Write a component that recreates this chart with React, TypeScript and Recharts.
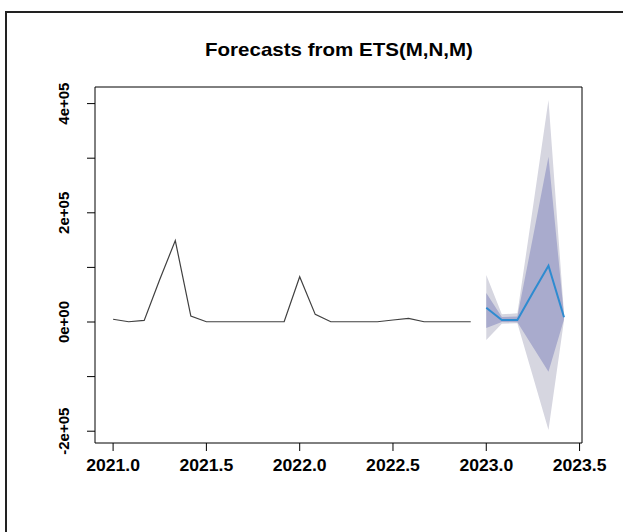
import {
  ComposedChart,
  Line,
  Area,
  XAxis,
  YAxis,
  ReferenceArea,
} from 'recharts';

// monthly series, Jan 2021 .. Dec 2022
const startYear = 2021;
const freq = 12;
const observed = [
  5000, 500, 3000, 78000, 149000, 11000, 500, 500, 500, 500, 500, 500,
  83000, 14000, 500, 500, 500, 500, 3700, 6800, 500, 500, 500, 500,
];

// forecasts Jan 2023 .. Jun 2023
const fcMean = [26000, 3700, 3700, 54000, 103000, 8600];
const lo80 = [-11000, 0, -500, -46000, -91000, 5000];
const hi80 = [53000, 9000, 10000, 155000, 302700, 12000];
const lo95 = [-33000, -3000, -2500, -100000, -197800, 3000];
const hi95 = [86000, 14000, 16000, 210000, 406600, 15000];

const xTicks = [2021, 2021.5, 2022, 2022.5, 2023, 2023.5];
const yTicks = [-200000, -100000, 0, 100000, 200000, 300000, 400000];
const yLabelled = [-200000, 0, 200000, 400000];

const xDomain = [2020.903, 2023.513];
const yDomain = [-221600, 430400];

const data = [
  ...observed.map((v, i) => ({ t: startYear + i / freq, actual: v })),
  ...fcMean.map((v, i) => ({
    t: startYear + (observed.length + i) / freq,
    mean: v,
    band80: [lo80[i], hi80[i]],
    band95: [lo95[i], hi95[i]],
  })),
];

const fmtY = (v: number) => {
  if (v === 0) return '0e+00';
  return `${v / 100000}e+05`;
};

const XTick = ({ x, y, payload }: any) => (
  <g transform={`translate(${x},${y + 13}) scale(1.1,1)`}>
    <text
      x={0}
      y={0}
      textAnchor="middle"
      dominantBaseline="central"
      fontFamily="'Liberation Sans', Arial, sans-serif"
      fontWeight="bold"
      fontSize={16}
      fill="#000"
    >
      {payload.value.toFixed(1)}
    </text>
  </g>
);

const YTick = ({ x, y, payload }: any) => {
  if (!yLabelled.includes(payload.value)) return null;
  const cx = x - 21;
  return (
    <text
      x={cx}
      y={y}
      transform={`rotate(-90, ${cx}, ${y})`}
      textAnchor="middle"
      dominantBaseline="central"
      fontFamily="'Liberation Sans', Arial, sans-serif"
      fontWeight="bold"
      fontSize={15}
      fill="#000"
    >
      {fmtY(payload.value)}
    </text>
  );
};

export default function App() {
  return (
    <div
      style={{
        position: 'absolute',
        left: 0,
        top: 0,
        width: 623,
        height: 532,
        overflow: 'hidden',
        background: '#fff',
      }}
    >
      {/* outer frame of the screenshot */}
      <div
        style={{
          position: 'absolute',
          left: 5,
          top: 11,
          width: 700,
          height: 600,
          borderLeft: '2px solid #222',
          borderTop: '2px solid #222',
        }}
      />
      <div
        style={{
          position: 'absolute',
          left: 339,
          top: 40,
          transform: 'translateX(-50%) scaleX(1.16)',
          whiteSpace: 'nowrap',
          fontFamily: "'Liberation Sans', Arial, sans-serif",
          fontWeight: 'bold',
          fontSize: 17.7,
          lineHeight: '20px',
          color: '#000',
        }}
      >
        Forecasts from ETS(M,N,M)
      </div>
      <ComposedChart
        width={623}
        height={532}
        data={data}
        margin={{ top: 87, right: 41, bottom: 39, left: 35 }}
        style={{ position: 'absolute', left: 0, top: 0 }}
      >
        <XAxis
          dataKey="t"
          type="number"
          domain={xDomain}
          ticks={xTicks}
          allowDataOverflow
          axisLine={false}
          tickLine={{ stroke: '#000' }}
          tickSize={8}
          height={50}
          tick={<XTick />}
          interval={0}
        />
        <YAxis
          type="number"
          domain={yDomain}
          ticks={yTicks}
          allowDataOverflow
          axisLine={false}
          tickLine={{ stroke: '#000' }}
          tickSize={8}
          width={60}
          tick={<YTick />}
          interval={0}
        />
        <Area
          dataKey="band95"
          type="linear"
          stroke="none"
          fill="#d6d6e0"
          fillOpacity={1}
          isAnimationActive={false}
          dot={false}
          activeDot={false}
        />
        <Area
          dataKey="band80"
          type="linear"
          stroke="none"
          fill="#a9abcd"
          fillOpacity={1}
          isAnimationActive={false}
          dot={false}
          activeDot={false}
        />
        <Line
          dataKey="actual"
          type="linear"
          stroke="#404040"
          strokeWidth={1.2}
          dot={false}
          activeDot={false}
          isAnimationActive={false}
        />
        <Line
          dataKey="mean"
          type="linear"
          stroke="#2e8bd0"
          strokeWidth={2}
          dot={false}
          activeDot={false}
          isAnimationActive={false}
        />
        <ReferenceArea
          x1={xDomain[0]}
          x2={xDomain[1]}
          y1={yDomain[0]}
          y2={yDomain[1]}
          fill="none"
          stroke="#000"
          strokeWidth={1}
          ifOverflow="visible"
        />
      </ComposedChart>
    </div>
  );
}
